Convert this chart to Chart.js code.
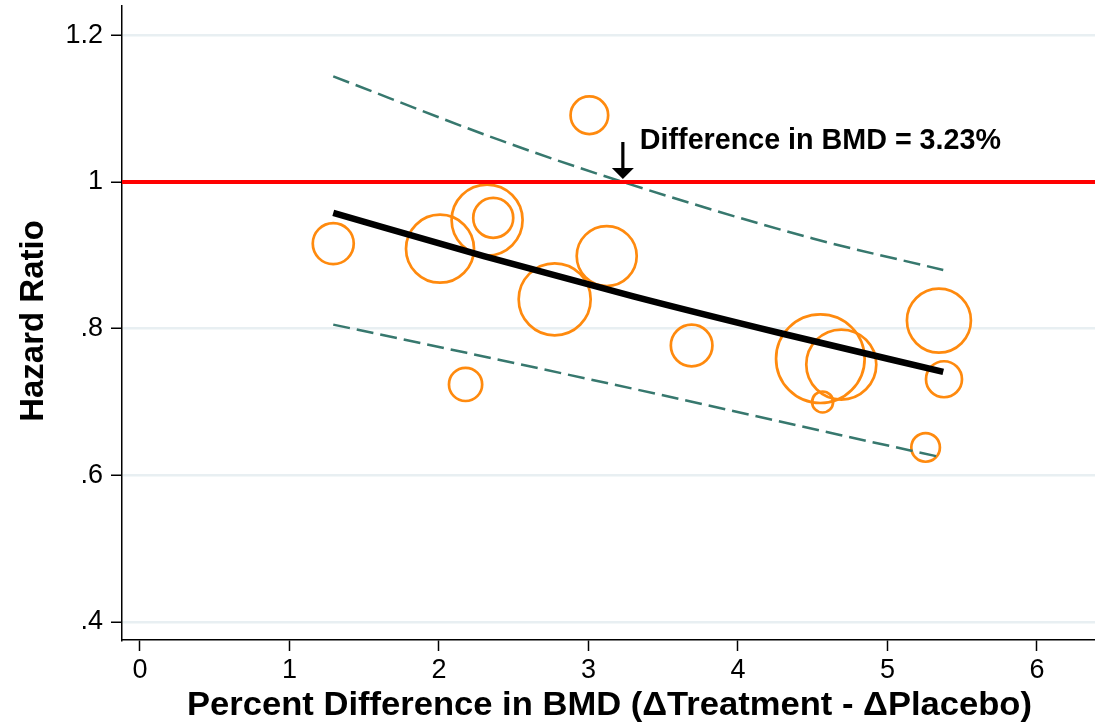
<!DOCTYPE html>
<html>
<head>
<meta charset="utf-8">
<script src="https://cdn.jsdelivr.net/npm/chart.js@4/dist/chart.umd.min.js"></script>
<style>
  html, body { margin: 0; padding: 0; background: #ffffff; }
  #wrap { width: 1095px; height: 722px; }
</style>
</head>
<body>
<div id="wrap"><canvas id="c" width="1095" height="722"></canvas></div>
<script>
// Trial-level BMD difference vs hazard ratio (bubble size ~ trial weight)
const bmdDiff     = [1.293, 2.007, 2.322, 2.363, 3.006, 3.122, 2.774, 2.178, 3.690, 4.551, 4.691, 4.566, 5.344, 5.378, 5.255];
const hazardRatio = [0.916, 0.909, 0.948, 0.951, 1.091, 0.899, 0.840, 0.724, 0.777, 0.759, 0.751, 0.700, 0.811, 0.731, 0.638];
const bubbleSize  = [20.5, 34, 35.5, 20, 18.8, 30, 36, 16.6, 20.8, 44.3, 35, 10.5, 32, 18, 14.3];

// Meta-regression fit and 95% confidence band
const fitX     = [1.293, 2.3, 3.3, 4.3, 5.373];
const fitHR    = [0.958, 0.899, 0.844, 0.793, 0.741];
const upperX   = [1.293, 2.408, 3.23, 4.5, 5.373];
const upperHR  = [1.144, 1.057, 1.0, 0.923, 0.880];
const lowerX   = [1.293, 2.185, 3.478, 4.682, 5.351];
const lowerHR  = [0.8055, 0.767, 0.710, 0.655, 0.625];

// Axes
const xTicks = [0, 1, 2, 3, 4, 5, 6];
const yTicks = [0.4, 0.6, 0.8, 1.0, 1.2];
const xMin = -0.12, xMax = 6.388;
const yMin = 0.3754, yMax = 1.240;
const nullHR = 1;
const thresholdBMD = 3.23;
const thresholdLabel = 'Difference in BMD = 3.23%';
const xTitle = 'Percent Difference in BMD (\u0394Treatment - \u0394Placebo)';
const yTitle = 'Hazard Ratio';

const pts = (xs, ys) => xs.map((x, i) => ({ x: x, y: ys[i] }));

// The plot area is fixed by the axis boxes; big circles may run past it.
Chart.BubbleController.prototype.getMaxOverflow = () => false;
Chart.LineController.prototype.getMaxOverflow = () => false;

const FONT = "'Liberation Sans', Arial, Helvetica, sans-serif";

const extras = {
  id: 'extras',
  afterDatasetsDraw(chart) {
    const { ctx, scales } = chart;
    const xs = scales.x, ys = scales.y;
    ctx.save();
    // arrow pointing at the crossing of the upper band with HR = 1
    const ax = xs.getPixelForValue(thresholdBMD);
    const ay = ys.getPixelForValue(nullHR) - 3;
    ctx.strokeStyle = '#000';
    ctx.fillStyle = '#000';
    ctx.lineWidth = 3.2;
    ctx.beginPath();
    ctx.moveTo(ax, ay - 37);
    ctx.lineTo(ax, ay - 9);
    ctx.stroke();
    ctx.beginPath();
    ctx.moveTo(ax - 11, ay - 11);
    ctx.lineTo(ax + 11, ay - 11);
    ctx.lineTo(ax, ay);
    ctx.closePath();
    ctx.fill();
    // label
    ctx.font = 'bold 28.7px ' + FONT;
    ctx.textAlign = 'left';
    ctx.textBaseline = 'alphabetic';
    ctx.fillText(thresholdLabel, ax + 17, ys.getPixelForValue(nullHR) - 33.4);
    ctx.restore();
  },
  afterDraw(chart) {
    const { ctx } = chart;
    ctx.save();
    ctx.fillStyle = '#000';
    ctx.textBaseline = 'alphabetic';
    ctx.textAlign = 'center';
    // x title
    ctx.font = 'bold 34px ' + FONT;
    const wx = ctx.measureText(xTitle).width;
    const sx = 845 / wx;
    ctx.save();
    ctx.translate(609.5, 715);
    ctx.scale(sx, 1);
    ctx.fillText(xTitle, 0, 0);
    ctx.restore();
    // y title
    ctx.font = 'bold 33px ' + FONT;
    ctx.save();
    ctx.translate(43.3, 321);
    ctx.rotate(-Math.PI / 2);
    ctx.fillText(yTitle, 0, 0);
    ctx.restore();
    ctx.restore();
  }
};

new Chart(document.getElementById('c'), {
  type: 'bubble',
  data: {
    datasets: [
      {
        type: 'line',
        data: [{ x: xMin, y: nullHR }, { x: xMax, y: nullHR }],
        borderColor: '#ff0000',
        borderWidth: 4,
        pointRadius: 0,
        order: 1
      },
      {
        type: 'line',
        data: pts(fitX, fitHR),
        borderColor: '#000000',
        borderWidth: 6.5,
        pointRadius: 0,
        cubicInterpolationMode: 'monotone',
        borderCapStyle: 'butt',
        order: 2
      },
      {
        type: 'line',
        data: pts(upperX, upperHR),
        borderColor: '#37786e',
        borderWidth: 2.5,
        borderDash: [17, 7],
        pointRadius: 0,
        cubicInterpolationMode: 'monotone',
        order: 3
      },
      {
        type: 'line',
        data: pts(lowerX, lowerHR),
        borderColor: '#37786e',
        borderWidth: 2.5,
        borderDash: [17, 7],
        pointRadius: 0,
        cubicInterpolationMode: 'monotone',
        order: 4
      },
      {
        type: 'bubble',
        data: bmdDiff.map((x, i) => ({ x: x, y: hazardRatio[i], r: bubbleSize[i] })),
        backgroundColor: 'rgba(0,0,0,0)',
        borderColor: '#ff8a0e',
        borderWidth: 2.7,
        hoverRadius: 0,
        order: 5
      }
    ]
  },
  options: {
    responsive: false,
    animation: false,
    events: [],
    layout: { padding: { top: 6, right: 0, left: 0, bottom: 0 } },
    plugins: {
      legend: { display: false },
      tooltip: { enabled: false }
    },
    scales: {
      x: {
        type: 'linear',
        min: xMin,
        max: xMax,
        afterBuildTicks(s) { s.ticks = xTicks.map(v => ({ value: v })); },
        afterFit(s) { s.height = 82; s.paddingLeft = 0; s.paddingRight = 0; },
        grid: {
          drawOnChartArea: false,
          drawTicks: true,
          tickLength: 11,
          tickColor: '#000',
          tickWidth: 1.5
        },
        border: { display: true, color: '#000', width: 1.5 },
        ticks: {
          color: '#000',
          font: { family: FONT, size: 27 },
          padding: 3,
          maxRotation: 0,
          callback: v => String(v)
        }
      },
      y: {
        type: 'linear',
        min: yMin,
        max: yMax,
        afterBuildTicks(s) { s.ticks = yTicks.map(v => ({ value: v })); },
        afterFit(s) { s.width = 122; s.paddingTop = 0; s.paddingBottom = 0; },
        grid: {
          color: '#e8eff2',
          lineWidth: 2.5,
          drawTicks: true,
          tickLength: 11,
          tickColor: '#000',
          tickWidth: 1.5
        },
        border: { display: true, color: '#000', width: 1.5 },
        ticks: {
          color: '#000',
          font: { family: FONT, size: 27 },
          padding: 8,
          callback: v => {
            const r = Math.round(v * 10) / 10;
            if (r === 1) return '1';
            if (r === 1.2) return '1.2';
            return String(r).replace(/^0/, '');
          }
        }
      }
    }
  },
  plugins: [extras]
});
</script>
</body>
</html>
